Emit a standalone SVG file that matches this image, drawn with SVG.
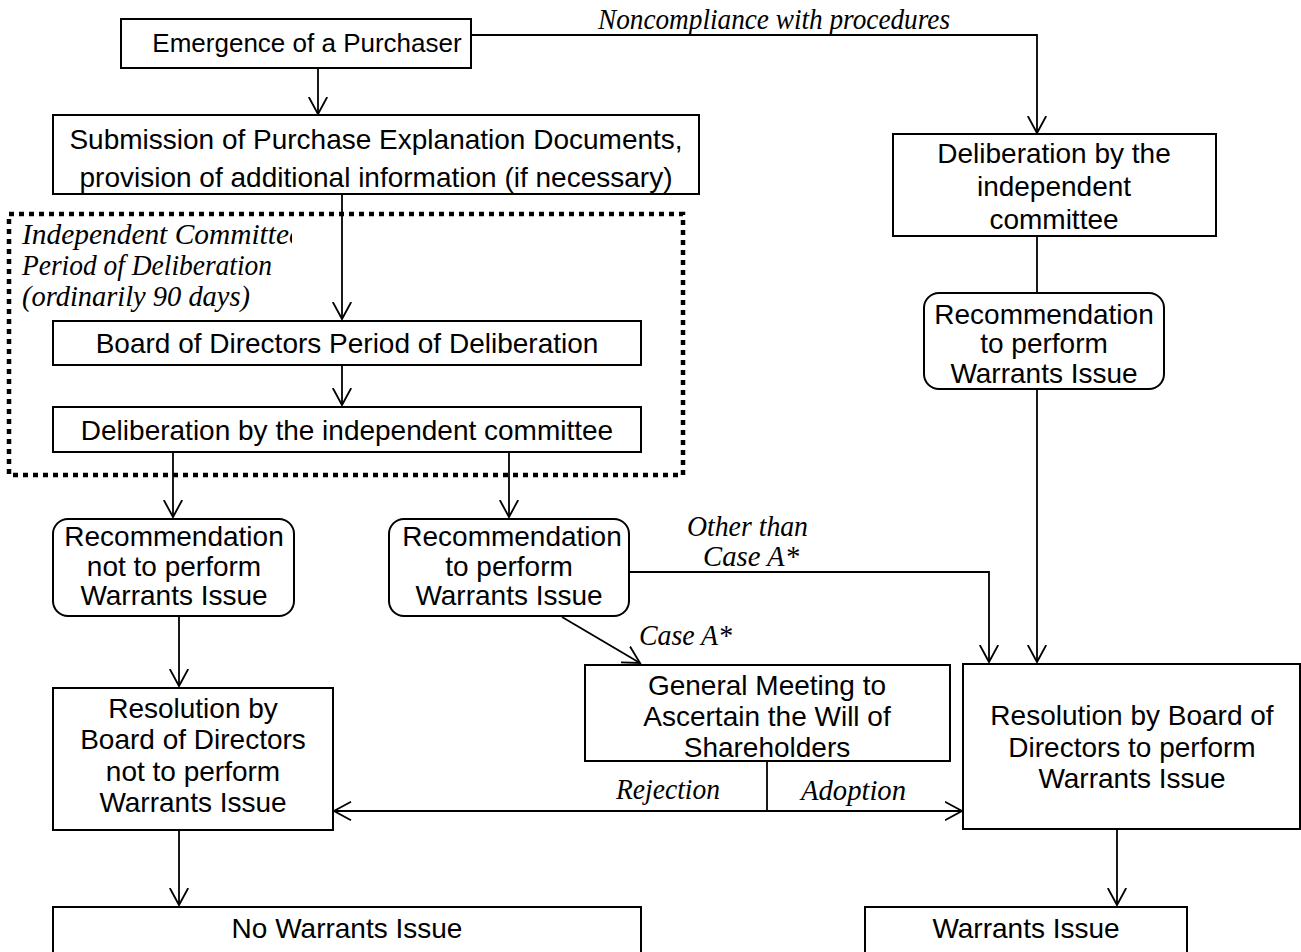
<svg xmlns="http://www.w3.org/2000/svg" width="1301" height="952" viewBox="0 0 1301 952">
<style>
.b{fill:#fff;stroke:#000;stroke-width:2}
.t{font-family:"Liberation Sans",Arial,sans-serif;font-size:28px;fill:#000;text-anchor:middle}
.i{font-family:"Liberation Serif","Times New Roman",serif;font-style:italic;font-size:30px;fill:#000}
.c{fill:none;stroke:#000;stroke-width:1.8}
.a{marker-end:url(#ah)}
</style>
<defs>
<marker id="ah" markerUnits="userSpaceOnUse" markerWidth="19" markerHeight="22" refX="17" refY="10" orient="auto">
<path d="M0,0.8 L17,10 L0,19.2" fill="none" stroke="#000" stroke-width="1.8"/>
</marker>
<marker id="as" markerUnits="userSpaceOnUse" markerWidth="19" markerHeight="22" refX="1" refY="10" orient="auto">
<path d="M18,0.8 L1,10 L18,19.2" fill="none" stroke="#000" stroke-width="1.8"/>
</marker>
<clipPath id="clipLabel"><rect x="0" y="200" width="292" height="60"/></clipPath>
</defs>
<g id="period">
<rect x="9" y="214" width="674" height="261" fill="none" stroke="#000" stroke-width="4.5" stroke-dasharray="5 5"/>
<text class="i" x="22" y="244" textLength="280" lengthAdjust="spacingAndGlyphs" clip-path="url(#clipLabel)">Independent Committee</text>
<text class="i" x="22" y="275" textLength="250" lengthAdjust="spacingAndGlyphs">Period of Deliberation</text>
<text class="i" x="22" y="306" textLength="228" lengthAdjust="spacingAndGlyphs">(ordinarily 90 days)</text>
</g>
<g id="connectors">
<line class="c a" x1="318" y1="68" x2="318" y2="114"/>
<polyline class="c a" points="471,35 1037,35 1037,133"/>
<text class="i" x="598" y="29" textLength="352" lengthAdjust="spacingAndGlyphs">Noncompliance with procedures</text>
<line class="c a" x1="342" y1="194" x2="342" y2="319"/>
<line class="c a" x1="342" y1="365" x2="342" y2="405"/>
<line class="c a" x1="173" y1="452" x2="173" y2="517"/>
<line class="c a" x1="509" y1="452" x2="509" y2="517"/>
<line class="c" x1="1037" y1="236" x2="1037" y2="293"/>
<line class="c a" x1="1037" y1="389" x2="1037" y2="662"/>
<line class="c a" x1="179" y1="616" x2="179" y2="686"/>
<line class="c a" x1="179" y1="830" x2="179" y2="905"/>
<line class="c a" x1="1117" y1="829" x2="1117" y2="905"/>
<line class="c a" x1="562" y1="617" x2="640" y2="663"/>
<text class="i" x="639" y="645" textLength="93" lengthAdjust="spacingAndGlyphs">Case A*</text>
<polyline class="c a" points="629,572 989,572 989,662"/>
<text class="i" x="687" y="536" textLength="121" lengthAdjust="spacingAndGlyphs">Other than</text>
<text class="i" x="703" y="566" textLength="96" lengthAdjust="spacingAndGlyphs">Case A*</text>
<line class="c" x1="767" y1="761" x2="767" y2="811"/>
<line class="c" x1="334" y1="811" x2="962" y2="811" marker-start="url(#as)" marker-end="url(#ah)"/>
<text class="i" x="616" y="799" textLength="104" lengthAdjust="spacingAndGlyphs">Rejection</text>
<text class="i" x="801" y="800" textLength="105" lengthAdjust="spacingAndGlyphs">Adoption</text>
</g>
<g id="n-emergence">
<rect class="b" x="121" y="19" width="350" height="49"/>
<text class="t" x="307" y="52" style="font-size:26px">Emergence of a Purchaser</text>
</g>
<g id="n-submission">
<rect class="b" x="53" y="115" width="646" height="79"/>
<text class="t" x="376" y="149">Submission of Purchase Explanation Documents,</text>
<text class="t" x="376" y="187">provision of additional information (if necessary)</text>
</g>
<g id="n-board">
<rect class="b" x="53" y="321" width="588" height="44"/>
<text class="t" x="347" y="353">Board of Directors Period of Deliberation</text>
</g>
<g id="n-delib">
<rect class="b" x="53" y="407" width="588" height="45"/>
<text class="t" x="347" y="440">Deliberation by the independent committee</text>
</g>
<g id="n-delib-right">
<rect class="b" x="893" y="134" width="323" height="102"/>
<text class="t" x="1054" y="163">Deliberation by the</text>
<text class="t" x="1054" y="196">independent</text>
<text class="t" x="1054" y="229">committee</text>
</g>
<g id="n-rec-right">
<rect class="b" x="924" y="293" width="240" height="96" rx="15"/>
<text class="t" x="1044" y="324">Recommendation</text>
<text class="t" x="1044" y="353">to perform</text>
<text class="t" x="1044" y="383">Warrants Issue</text>
</g>
<g id="n-rec-not">
<rect class="b" x="53" y="519" width="241" height="97" rx="15"/>
<text class="t" x="174" y="546">Recommendation</text>
<text class="t" x="174" y="576">not to perform</text>
<text class="t" x="174" y="605">Warrants Issue</text>
</g>
<g id="n-rec-mid">
<rect class="b" x="389" y="519" width="240" height="97" rx="15"/>
<text class="t" x="512" y="546">Recommendation</text>
<text class="t" x="509" y="576">to perform</text>
<text class="t" x="509" y="605">Warrants Issue</text>
</g>
<g id="n-res-not">
<rect class="b" x="53" y="688" width="280" height="142"/>
<text class="t" x="193" y="718">Resolution by</text>
<text class="t" x="193" y="749">Board of Directors</text>
<text class="t" x="193" y="781">not to perform</text>
<text class="t" x="193" y="812">Warrants Issue</text>
</g>
<g id="n-general">
<rect class="b" x="585" y="665" width="365" height="96"/>
<text class="t" x="767" y="695">General Meeting to</text>
<text class="t" x="767" y="726">Ascertain the Will of</text>
<text class="t" x="767" y="757">Shareholders</text>
</g>
<g id="n-res-yes">
<rect class="b" x="963" y="664" width="337" height="165"/>
<text class="t" x="1132" y="725">Resolution by Board of</text>
<text class="t" x="1132" y="757">Directors to perform</text>
<text class="t" x="1132" y="788">Warrants Issue</text>
</g>
<g id="n-no">
<rect class="b" x="53" y="907" width="588" height="60"/>
<text class="t" x="347" y="938">No Warrants Issue</text>
</g>
<g id="n-yes">
<rect class="b" x="865" y="907" width="322" height="60"/>
<text class="t" x="1026" y="938">Warrants Issue</text>
</g>
</svg>
